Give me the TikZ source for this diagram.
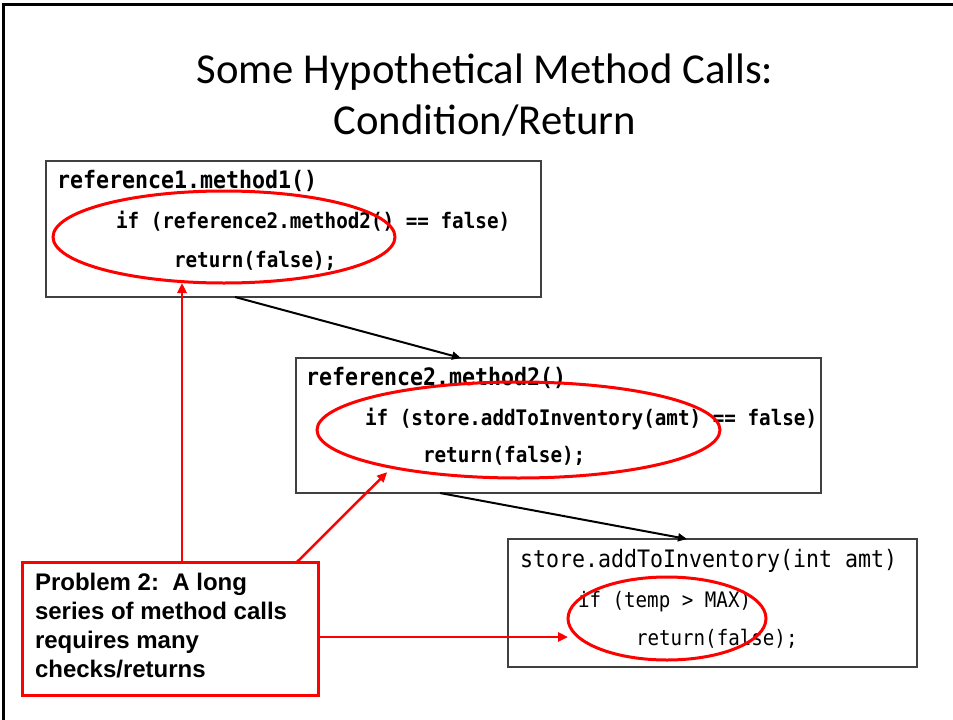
\documentclass[tikz,border=0pt]{standalone}
\usepackage{fontspec}
\usetikzlibrary{arrows.meta,shapes.geometric}
\newfontfamily\titlefont{Carlito}
\newfontfamily\codefont[FakeStretch=0.9]{DejaVu Sans Mono}
\newfontfamily\probfont{Liberation Sans}
\begin{document}
\begin{tikzpicture}[x=1pt,y=-1pt,
  every node/.style={outer sep=0pt},
  frame/.style={line width=3pt,black},
  codebox/.style={draw=black!75,line width=1.5pt,rectangle,inner sep=0pt},
  hl/.style={draw=red,line width=3pt,ellipse,inner sep=0pt},
  probbox/.style={draw=red,line width=3pt,rectangle,inner sep=0pt},
  callarrow/.style={line width=2pt,-{Triangle[length=9pt,width=8pt]}},
  redarrow/.style={red,line width=2.5pt,-{Triangle[length=10pt,width=9pt]}},
  titletext/.style={anchor=base,inner sep=0pt,font=\titlefont\fontsize{42.67}{51}\selectfont},
  hdr/.style={anchor=base west,inner sep=0pt,font=\codefont\bfseries\fontsize{24}{28}\selectfont},
  code/.style={anchor=base west,inner sep=0pt,font=\codefont\bfseries\fontsize{21.4}{25}\selectfont},
  hdrr/.style={anchor=base west,inner sep=0pt,font=\codefont\fontsize{24}{28}\selectfont},
  coder/.style={anchor=base west,inner sep=0pt,font=\codefont\fontsize{21.3}{25}\selectfont},
  probtext/.style={anchor=base west,inner sep=0pt,font=\probfont\bfseries\fontsize{24}{29}\selectfont}
]
\fill[white] (0,0) rectangle (953,720);
\useasboundingbox (0,0) rectangle (953,720);
\draw[frame] (3,722) -- (3,4) -- (955,4);

% title
\node[titletext] (title1) at (485,83) {Some Hypothetical Method Calls:};
\node[titletext] (title2) at (485,134) {Condition/Return};

% boxes
\node[codebox,minimum width=495pt,minimum height=136pt] (b1) at (293.5,229) {};
\node[codebox,minimum width=525pt,minimum height=135pt] (b2) at (558.5,425.5) {};
\node[codebox,minimum width=409pt,minimum height=128pt] (b3) at (712.5,603) {};

% box texts
\node[hdr] (t1a) at (57,188) {reference1.method1()};
\node[code] (t1b) at (116,228) {if (reference2.method2() == false)};
\node[code] (t1c) at (174,267) {return(false);};

\node[hdr] (t2a) at (306,385) {reference2.method2()};
\node[code] (t2b) at (365,425) {if (store.addToInventory(amt) == false)};
\node[code] (t2c) at (423,462) {return(false);};

\node[hdrr] (t3a) at (520,567) {store.addToInventory(int amt)};
\node[coder] (t3b) at (578,607) {if (temp > MAX)};
\node[coder] (t3c) at (636,645) {return(false);};

% highlight ellipses
\node[hl,minimum width=342pt,minimum height=92pt] (e1) at (224,237) {};
\node[hl,minimum width=403pt,minimum height=96pt] (e2) at (518.5,430) {};
\node[hl,minimum width=198pt,minimum height=83pt] (e3) at (667,618.5) {};

% problem box
\node[probbox,minimum width=296pt,minimum height=133pt] (pb) at (170,628.5) {};
\node[probtext] (p1) at (35,590) {Problem 2:\ \ A long};
\node[probtext] (p2) at (35,619) {series of method calls};
\node[probtext] (p3) at (35,648) {requires many};
\node[probtext] (p4) at (35,677) {checks/returns};

% call arrows
\draw[callarrow] ([xshift=189pt]b1.south west) -- ([xshift=165pt]b2.north west);
\draw[callarrow] ([xshift=144pt]b2.south west) -- ([xshift=179pt]b3.north west);

% red arrows
\coordinate (r1) at ([xshift=160pt]pb.north west);
\draw[redarrow] (r1) -- (r1 |- e1.south);
\draw[redarrow] ([xshift=275pt]pb.north west) -- ([xshift=-21pt,yshift=-2pt]e2.200);
\coordinate (r3) at ([yshift=-8.5pt]pb.east);
\draw[redarrow] (r3) -- (r3 -| e3.west);
\end{tikzpicture}
\end{document}
